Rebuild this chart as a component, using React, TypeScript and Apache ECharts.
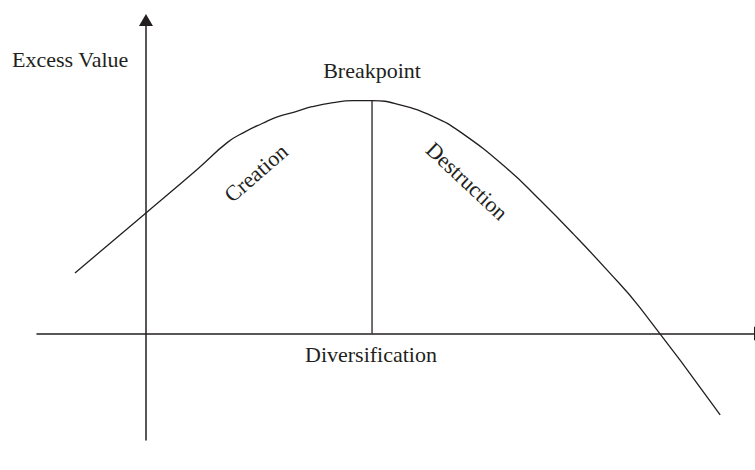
import React, { useEffect, useRef } from "react";
import * as echarts from "echarts";

// Curve (diversification on x, excess value on y; breakpoint at 5, 5)
const curveX = [-1.57, 0, 1.15, 1.81, 2.19, 2.57, 2.92, 3.3, 3.67, 4.14, 4.58, 5.0, 5.62, 6.35, 6.95, 7.99, 8.72, 9.45, 10.2, 10.93, 12.7];
const curveY = [1.3, 2.59, 3.54, 4.11, 4.33, 4.51, 4.66, 4.76, 4.87, 4.96, 5.0, 5.0, 4.91, 4.66, 4.33, 3.54, 2.86, 2.14, 1.36, 0.55, -1.75];
const breakpointX = [5, 5];
const breakpointY = [0, 5];
const xRange = [-2.41, 13.47];
const yRange = [-2.287, 6.604];
const labelTexts = ["Excess Value", "Breakpoint", "Diversification", "Creation", "Destruction"];

const INK = "#231f20";
const FONT = "'Liberation Serif', 'DejaVu Serif', serif";

export default function App() {
  const ref = useRef<HTMLDivElement>(null);

  useEffect(() => {
    if (!ref.current) return;
    const chart = echarts.init(ref.current, undefined, { renderer: "svg" });
    const textStyle = (extra: any) => ({
      fill: INK,
      font: `22px ${FONT}`,
      ...extra,
    });
    const axisLine = (offset: number) => ({
      onZero: true,
      symbol: ["none", "triangle"],
      symbolSize: [14, 12],
      symbolOffset: [0, offset],
      lineStyle: { color: INK, width: 1.5 },
    });
    chart.setOption({
      animation: false,
      backgroundColor: "#ffffff",
      grid: { left: 37, right: 0, top: 26, bottom: 30 },
      xAxis: {
        type: "value",
        min: xRange[0],
        max: xRange[1],
        axisLine: axisLine(5),
        axisTick: { show: false },
        axisLabel: { show: false },
        splitLine: { show: false },
      },
      yAxis: {
        type: "value",
        min: yRange[0],
        max: yRange[1],
        axisLine: axisLine(6),
        axisTick: { show: false },
        axisLabel: { show: false },
        splitLine: { show: false },
      },
      series: [
        {
          type: "line",
          data: curveX.map((x, i) => [x, curveY[i]]),
          smooth: 0.5,
          showSymbol: false,
          lineStyle: { color: INK, width: 1.3 },
          silent: true,
        },
        {
          type: "line",
          data: breakpointX.map((x, i) => [x, breakpointY[i]]),
          showSymbol: false,
          lineStyle: { color: INK, width: 1.3 },
          silent: true,
        },
      ],
      graphic: [
        {
          type: "text",
          x: 12,
          y: 59.6,
          style: textStyle({ text: labelTexts[0], textAlign: "left", textVerticalAlign: "middle" }),
        },
        {
          type: "text",
          x: 372,
          y: 70.6,
          style: textStyle({ text: labelTexts[1], textAlign: "center", textVerticalAlign: "middle" }),
        },
        {
          type: "text",
          x: 371,
          y: 354.6,
          style: textStyle({ text: labelTexts[2], textAlign: "center", textVerticalAlign: "middle" }),
        },
        {
          type: "text",
          x: 256,
          y: 173,
          rotation: (41 * Math.PI) / 180,
          style: textStyle({ text: labelTexts[3], textAlign: "center", textVerticalAlign: "middle" }),
        },
        {
          type: "text",
          x: 467,
          y: 181,
          rotation: (-43 * Math.PI) / 180,
          style: textStyle({ text: labelTexts[4], textAlign: "center", textVerticalAlign: "middle" }),
        },
      ],
    });
    return () => chart.dispose();
  }, []);

  return (
    <div
      ref={ref}
      style={{ position: "fixed", left: 0, top: 0, width: 755, height: 470, background: "#fff" }}
    />
  );
}
